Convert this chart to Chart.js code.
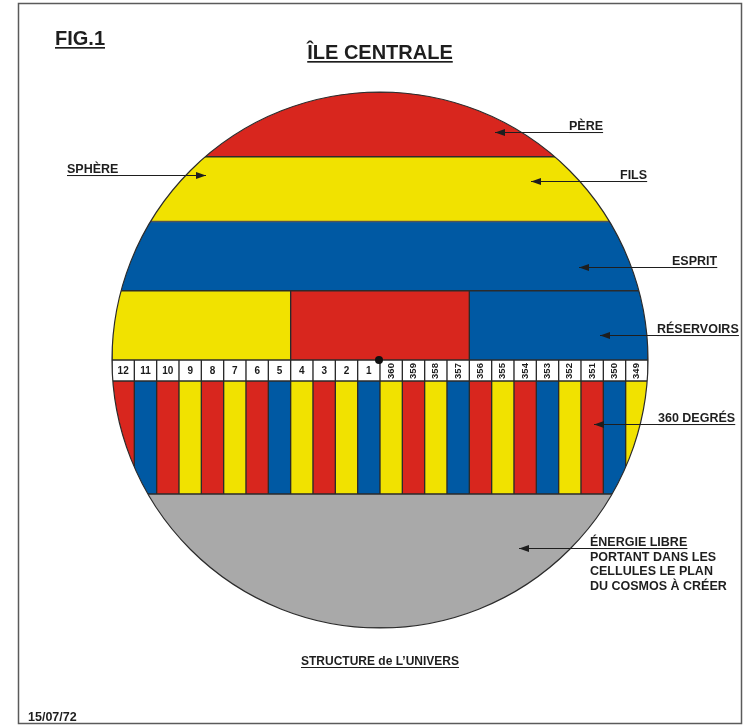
<!DOCTYPE html>
<html><head><meta charset="utf-8">
<script src="https://cdn.jsdelivr.net/npm/chart.js@4.4.1/dist/chart.umd.min.js"></script>
<style>html,body{margin:0;padding:0;background:#fff;overflow:hidden}canvas{display:block}</style>
</head><body><canvas id="c" width="746" height="727"></canvas>
<script>
// ---- data ----
const degreeLabels = ['12','11','10','9','8','7','6','5','4','3','2','1','360','359','358','357','356','355','354','353','352','351','350','349'];
const degreeColors = ['rouge','bleu','rouge','jaune','rouge','jaune','rouge','bleu','jaune','rouge','jaune','bleu','jaune','rouge','jaune','bleu','rouge','jaune','rouge','bleu','jaune','rouge','bleu','jaune'];
const bandLabels = ['PÈRE','FILS','ESPRIT'];
const bandLow = [9.1, 6.2, 3.1];
const bandHigh = [12, 9.1, 6.2];
const bandColors = ['rouge','jaune','bleu'];
const reservoirLabels = ['Réservoir 1','Réservoir 2','Réservoir 3'];
const reservoirColors = ['jaune','rouge','bleu'];
const reservoirRange = [0, 3.1];
const degreeRowRange = [-0.94, 0];
const stripeRange = [-6, -0.94];
const energyRange = [-12, -6];

const PAL = {rouge:'#d8261e', jaune:'#f1e200', bleu:'#0059a3', gris:'#a9a9a9', blanc:'#ffffff'};
const EDGE = '#2b2b2b';
const FONT = '"Liberation Sans", Arial, sans-serif';

const common = {borderColor:EDGE, borderWidth:1, borderSkipped:false, grouped:false, barPercentage:1, categoryPercentage:1};
const datasets = [];
bandLabels.forEach((b,i)=>datasets.push(Object.assign({label:b, xAxisID:'xBand', data:[[bandLow[i], bandHigh[i]]], backgroundColor:PAL[bandColors[i]]}, common)));
datasets.push(Object.assign({label:'ÉNERGIE LIBRE', xAxisID:'xBand', data:[energyRange], backgroundColor:PAL.gris}, common));
datasets.push(Object.assign({label:'RÉSERVOIRS', xAxisID:'xRes', data:reservoirLabels.map(()=>reservoirRange), backgroundColor:reservoirColors.map(c=>PAL[c])}, common));
datasets.push(Object.assign({label:'degrés', xAxisID:'x', data:degreeLabels.map(()=>degreeRowRange), backgroundColor:PAL.blanc}, common));
datasets.push(Object.assign({label:'360 DEGRÉS', xAxisID:'x', data:degreeLabels.map(()=>stripeRange), backgroundColor:degreeColors.map(c=>PAL[c])}, common));

function geom(chart){
  const a = chart.chartArea, y = chart.scales.y;
  const cx = (a.left + a.right)/2, cy = y.getPixelForValue(0);
  return {cx, cy, r: cy - y.getPixelForValue(12)};
}
function uText(ctx, txt, x, y, size, align, underline){
  ctx.font = 'bold ' + size + 'px ' + FONT;
  ctx.textAlign = align || 'left';
  ctx.textBaseline = 'alphabetic';
  ctx.fillText(txt, x, y);
  const w = ctx.measureText(txt).width;
  const x0 = align === 'center' ? x - w/2 : x;
  if (underline) { ctx.fillRect(x0, y + 2, w, Math.max(1, size/12)); }
  return {x0, w};
}
function arrow(ctx, x1, y, tipX){
  ctx.beginPath(); ctx.moveTo(x1, y); ctx.lineTo(tipX, y); ctx.lineWidth = 1.2; ctx.stroke();
  const d = tipX < x1 ? 1 : -1;
  ctx.beginPath(); ctx.moveTo(tipX, y); ctx.lineTo(tipX + d*10, y - 3.5); ctx.lineTo(tipX + d*10, y + 3.5); ctx.closePath(); ctx.fill();
}

const notes = [
  {lines:['PÈRE'], x:569, y:130, tip:495},
  {lines:['FILS'], x:620, y:179, tip:531},
  {lines:['ESPRIT'], x:672, y:265, tip:579},
  {lines:['RÉSERVOIRS'], x:657, y:333, tip:600},
  {lines:['360 DEGRÉS'], x:658, y:422, tip:594},
  {lines:['ÉNERGIE LIBRE','PORTANT DANS LES','CELLULES LE PLAN','DU COSMOS À CRÉER'], x:590, y:546, tip:519}
];

const figure = {
  id:'figure',
  beforeDraw(chart){
    const ctx = chart.ctx; ctx.save();
    ctx.fillStyle = '#fff'; ctx.fillRect(0,0,chart.width,chart.height);
    ctx.strokeStyle = '#5a5a5a'; ctx.lineWidth = 1.5; ctx.strokeRect(18.5, 3.5, 723, 720);
    ctx.restore();
  },
  beforeDatasetsDraw(chart){
    const ctx = chart.ctx, g = geom(chart);
    ctx.save(); ctx.beginPath(); ctx.arc(g.cx, g.cy, g.r, 0, Math.PI*2); ctx.clip();
  },
  afterDatasetsDraw(chart){
    const ctx = chart.ctx, g = geom(chart);
    ctx.restore();
    ctx.save();
    ctx.beginPath(); ctx.arc(g.cx, g.cy, g.r, 0, Math.PI*2); ctx.strokeStyle = EDGE; ctx.lineWidth = 1.2; ctx.stroke();
    // degree numbers
    const xs = chart.scales.x, ys = chart.scales.y;
    const ym = (ys.getPixelForValue(degreeRowRange[0]) + ys.getPixelForValue(degreeRowRange[1]))/2;
    ctx.fillStyle = '#1a1a1a'; ctx.textBaseline = 'middle'; ctx.textAlign = 'center';
    degreeLabels.forEach((lab,i)=>{
      const x = xs.getPixelForValue(i);
      if (lab.length === 3) {
        ctx.save(); ctx.translate(x, ym + 0.5); ctx.rotate(-Math.PI/2);
        ctx.font = 'bold 9.5px ' + FONT; ctx.fillText(lab, 0, 0); ctx.restore();
      } else {
        ctx.font = 'bold 10px ' + FONT; ctx.fillText(lab, x, ym + 0.5);
      }
    });
    // centre dot
    ctx.beginPath(); ctx.arc(g.cx - 1, g.cy, 4, 0, Math.PI*2); ctx.fillStyle = '#111'; ctx.fill();
    ctx.restore();
  },
  afterDraw(chart){
    const ctx = chart.ctx; ctx.save();
    ctx.fillStyle = '#1e1e1e'; ctx.strokeStyle = '#1e1e1e';
    uText(ctx, 'FIG.1', 55, 45, 20, 'left', true);
    uText(ctx, 'ÎLE CENTRALE', 380, 59, 20, 'center', true);
    uText(ctx, 'STRUCTURE de L\u2019UNIVERS', 380, 665, 12, 'center', true);
    uText(ctx, '15/07/72', 28, 721, 12.5, 'left', false);
    // SPHÈRE (arrow to the right)
    const s = uText(ctx, 'SPHÈRE', 67, 173, 12.5, 'left', true);
    arrow(ctx, s.x0, 175.5, 206);
    notes.forEach(n=>{
      n.lines.forEach((l,k)=>{
        const t = uText(ctx, l, n.x, n.y + k*14.5, 12.5, 'left', k === 0);
        if (k === 0) arrow(ctx, t.x0 + t.w, n.y + 2.5, n.tip);
      });
    });
    ctx.restore();
  }
};

new Chart(document.getElementById('c'), {
  type:'bar',
  data:{datasets},
  options:{
    responsive:false, animation:false, devicePixelRatio:1,
    layout:{padding:{left:112, right:98, top:92, bottom:99}},
    plugins:{legend:{display:false}, tooltip:{enabled:false}},
    scales:{
      x:{type:'category', labels:degreeLabels, display:false, offset:true},
      xRes:{type:'category', labels:reservoirLabels, display:false, offset:true},
      xBand:{type:'category', labels:['ÎLE CENTRALE'], display:false, offset:true},
      y:{type:'linear', min:-12, max:12, display:false}
    }
  },
  plugins:[figure]
});
</script></body></html>
